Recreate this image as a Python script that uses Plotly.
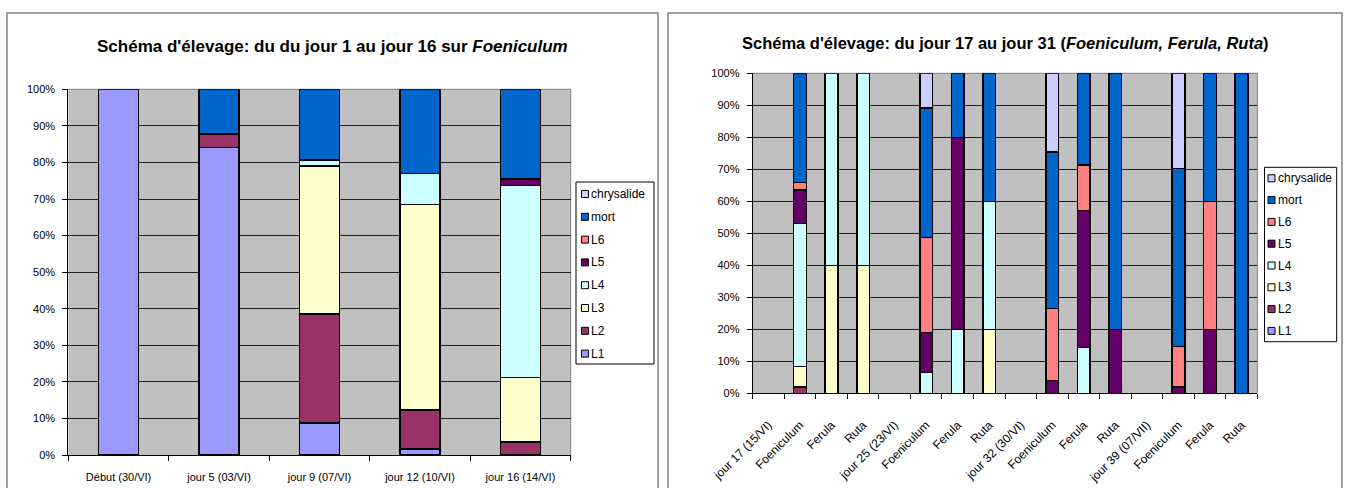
import plotly.graph_objects as go

# ---------------- data ----------------
series_names = ["L1", "L2", "L3", "L4", "L5", "L6", "mort", "chrysalide"]
colors = ["#9999FF", "#993366", "#FFFFCC", "#CCFFFF", "#660066", "#FF8080", "#0066CC", "#CCCCFF"]

left_cats = ["Début (30/VI)", "jour 5 (03/VI)", "jour 9 (07/VI)", "jour 12 (10/VI)", "jour 16 (14/VI)"]
left_L1 = [100, 84.1, 8.8, 1.6, None]
left_L2 = [None, 3.7, 29.8, 10.7, 3.6]
left_L3 = [None, None, 40.4, 56.2, 17.6]
left_L4 = [None, None, 1.7, 8.5, 52.5]
left_L5 = [None, None, None, None, 1.8]
left_L6 = [None, None, None, None, None]
left_mort = [None, 12.2, 19.3, 23.0, 24.5]
left_chrys = [None, None, None, None, None]

right_cats = ["jour 17 (15/VI)", "Foeniculum", "Ferula", "Ruta",
              "jour 25 (23/VI)", "Foeniculum", "Ferula", "Ruta",
              "jour 32 (30/VI)", "Foeniculum", "Ferula", "Ruta",
              "jour 39 (07/VII)", "Foeniculum", "Ferula", "Ruta"]
N = None
right_L1 = [N, N, N, N, N, N, N, N, N, N, N, N, N, N, N, N]
right_L2 = [N, 1.9, N, N, N, N, N, N, N, N, N, N, N, N, N, N]
right_L3 = [N, 6.4, 40, 40, N, N, N, 20, N, N, N, N, N, N, N, N]
right_L4 = [N, 44.8, 60, 60, N, 6.5, 20, 40, N, N, 14.3, N, N, N, N, N]
right_L5 = [N, 10.4, N, N, N, 12.5, 60, N, N, 4.0, 42.8, 20, N, 1.9, 20, N]
right_L6 = [N, 2.3, N, N, N, 29.7, N, N, N, 22.5, 14.3, N, N, 12.7, 40, N]
right_mort = [N, 34.2, N, N, N, 40.5, 20, 40, N, 48.9, 28.6, 80, N, 55.6, 40, 100]
right_chrys = [N, N, N, N, N, 10.8, N, N, N, 24.6, N, N, N, 29.8, N, N]

left_data = [left_L1, left_L2, left_L3, left_L4, left_L5, left_L6, left_mort, left_chrys]
right_data = [right_L1, right_L2, right_L3, right_L4, right_L5, right_L6, right_mort, right_chrys]

left_title = "Schéma d'élevage: du du jour 1 au jour 16 sur <i>Foeniculum</i>"
right_title = "Schéma d'élevage: du jour 17 au jour 31 (<i>Foeniculum, Ferula, Ruta</i>)"

# ---------------- figure ----------------
W, H = 1345, 488
def px(x):
    return x / W
def py(y):
    return 1 - y / H

FONT = "Liberation Sans, Arial, sans-serif"
fig = go.Figure()

left_x = list(range(len(left_cats)))
right_x = list(range(len(right_cats)))

for name, col, vals in zip(series_names, colors, left_data):
    fig.add_trace(go.Bar(x=left_x, y=vals, name=name, showlegend=False,
                         marker=dict(color=col, line=dict(color="black", width=1.5)),
                         xaxis="x", yaxis="y"))
for name, col, vals in zip(series_names, colors, right_data):
    fig.add_trace(go.Bar(x=right_x, y=vals, name=name, showlegend=False,
                         marker=dict(color=col, line=dict(color="black", width=1.5)),
                         xaxis="x2", yaxis="y2"))

axis_common_y = dict(range=[0, 100], dtick=10, ticksuffix="%", showgrid=True, gridcolor="#202020", gridwidth=1,
                     showline=True, linecolor="black", linewidth=1, ticks="outside", ticklen=5, tickcolor="black",
                     tickfont=dict(family=FONT, size=11, color="black"), zeroline=False, fixedrange=True,
                     automargin=False, ticklabelstandoff=5)

shapes = [
    # chart frames
    dict(type="path", path=f"M {px(7)} {py(500)} L {px(7)} {py(13)} L {px(658)} {py(13)} L {px(658)} {py(500)}",
         xref="paper", yref="paper", line=dict(color="#808080", width=1.5)),
    dict(type="path", path=f"M {px(668)} {py(500)} L {px(668)} {py(13)} L {px(1342)} {py(13)} L {px(1342)} {py(500)}",
         xref="paper", yref="paper", line=dict(color="#808080", width=1.5)),
    # plot-area borders (top/right)
    dict(type="path", path="M 0 1 L 1 1 L 1 0", xref="x domain", yref="y domain",
         line=dict(color="#808080", width=1), layer="below"),
    dict(type="path", path="M 0 1 L 1 1 L 1 0", xref="x2 domain", yref="y2 domain",
         line=dict(color="#808080", width=1), layer="below"),
]
annotations = [
    dict(text="<b>" + left_title + "</b>", x=px(332), y=py(46.5),
         xref="paper", yref="paper", xanchor="center", yanchor="middle", showarrow=False,
         font=dict(family=FONT, size=17, color="black")),
    dict(text="<b>" + right_title + "</b>", x=px(1005), y=py(42.7),
         xref="paper", yref="paper", xanchor="center", yanchor="middle", showarrow=False,
         font=dict(family=FONT, size=16.5, color="black")),
]

# legends (Excel-style: small squares, reversed order)
def add_legend(box, sym_x0, text_x, y_first, step):
    x0, y0, x1, y1 = box
    shapes.append(dict(type="rect", xref="paper", yref="paper", x0=px(x0), x1=px(x1), y0=py(y1), y1=py(y0),
                       line=dict(color="black", width=1), fillcolor="white", layer="above"))
    for i, (name, col) in enumerate(reversed(list(zip(series_names, colors)))):
        yc = y_first + i * step
        shapes.append(dict(type="rect", xref="paper", yref="paper",
                           x0=px(sym_x0), x1=px(sym_x0 + 7), y0=py(yc + 3.5), y1=py(yc - 3.5),
                           line=dict(color="black", width=1), fillcolor=col, layer="above"))
        annotations.append(dict(text=name, x=px(text_x), y=py(yc), xref="paper", yref="paper",
                                xanchor="left", yanchor="middle", showarrow=False,
                                font=dict(family=FONT, size=12, color="black")))

add_legend((576, 182, 654, 364), 581.5, 589, 194, 22.8)
add_legend((1264.5, 167.3, 1336.7, 341.7), 1268, 1276, 178.3, 21.8)

fig.update_layout(
    width=W, height=H,
    margin=dict(l=0, r=0, t=0, b=0),
    paper_bgcolor="white",
    plot_bgcolor="#C0C0C0",
    barmode="stack",
    bargap=0.6,
    showlegend=False,
    font=dict(family=FONT, color="black"),
    xaxis=dict(domain=[px(68.3), px(570.7)], anchor="y", range=[-0.5, len(left_cats) - 0.5],
               tickmode="array", tickvals=left_x, ticktext=left_cats, ticks="", showgrid=False, zeroline=False,
               showline=True, linecolor="black", linewidth=1, ticklabelstandoff=12, automargin=False,
               tickfont=dict(family=FONT, size=11, color="black"),
               minor=dict(tick0=-0.5, dtick=1, ticks="outside", ticklen=5, tickcolor="black", showgrid=False)),
    yaxis=dict(domain=[py(455), py(89.3)], anchor="x", **axis_common_y),
    xaxis2=dict(domain=[px(752.7), px(1257.3)], anchor="y2", range=[-0.5, len(right_cats) - 0.5],
                tickmode="array", tickvals=right_x, ticktext=right_cats, ticks="", showgrid=False, zeroline=False,
                showline=True, linecolor="black", linewidth=1, tickangle=-45, ticklabelstandoff=19,
                automargin=False, tickfont=dict(family=FONT, size=12, color="black"),
                minor=dict(tick0=-0.5, dtick=1, ticks="outside", ticklen=5, tickcolor="black", showgrid=False)),
    yaxis2=dict(domain=[py(393.3), py(73.3)], anchor="x2", **axis_common_y),
    shapes=shapes,
    annotations=annotations,
)

fig.write_html("out.html", config={"displayModeBar": False},
               post_script="document.body.style.margin='0';document.body.style.overflow='hidden';")
